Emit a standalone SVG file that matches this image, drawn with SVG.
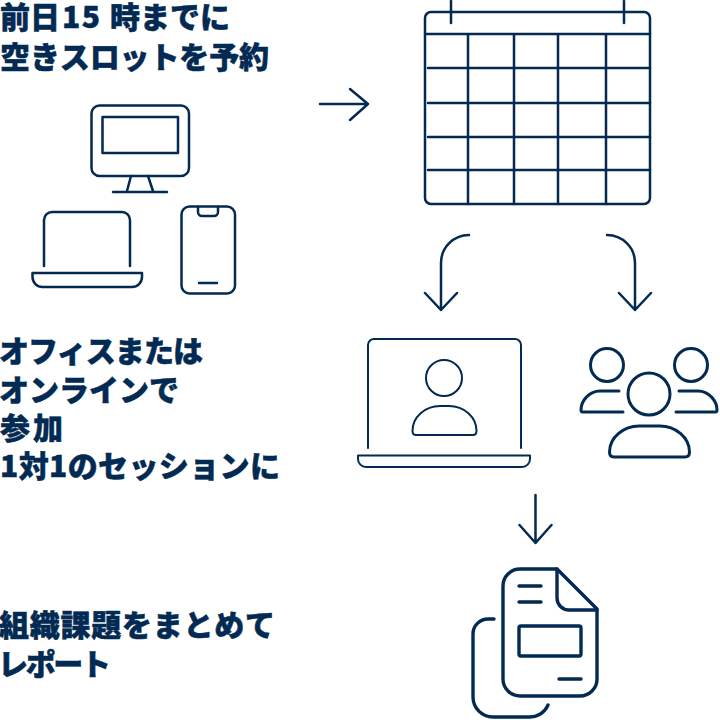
<svg xmlns="http://www.w3.org/2000/svg" width="720" height="720" viewBox="0 0 720 720">
<style>
.i{fill:none;stroke:#022a52;stroke-linecap:round;stroke-linejoin:round}
.a{stroke-width:2.5}.b{stroke-width:2}.c{stroke-width:3}.d{stroke-width:3.4}
text{font-family:"Noto Sans CJK JP","Noto Sans",sans-serif;font-weight:900;font-size:30px;fill:#022a52;stroke:#022a52;stroke-width:.5}
</style>
<rect width="720" height="720" fill="#fff"/>
<g id="label-booking"><text y="28"><tspan x="0">前日</tspan><tspan x="62" textLength="38">15</tspan><tspan x="110">時までに</tspan></text><text x="0" y="68" textLength="269">空きスロットを予約</text></g>
<g id="label-join"><text x="-1" y="362" textLength="204">オフィスまたは</text><text x="-1" y="401" textLength="180">オンラインで</text><text x="0" y="439" textLength="63">参加</text><text x="0" y="477" textLength="280">1対1のセッションに</text></g>
<g id="label-report"><text x="-1" y="636" textLength="276">組織課題をまとめて</text><text x="-2" y="675" textLength="113">レポート</text></g>
<g id="devices" class="i a">
<rect x="91.500" y="105.500" width="97.500" height="70.500" rx="8"/><rect x="102.500" y="117" width="75.500" height="36"/>
<path d="M131 176 127 191M148 176 153 191M113 192H167"/>
<path d="M44 266V220a8 8 0 0 1 8-8H122a8 8 0 0 1 8 8V266"/>
<path d="M32.500 273H142V277a10 10 0 0 1-10 10H42.500a10 10 0 0 1-10-10Z"/>
<rect x="181.500" y="206.500" width="53.500" height="87" rx="8"/>
<path d="M198 207V212a4 4 0 0 0 4 4H214a4 4 0 0 0 4-4V207M199 283H217"/>
</g>
<g id="calendar" class="i a">
<path d="M425 34V18a6 6 0 0 1 6-6H644a6 6 0 0 1 6 6V198a6 6 0 0 1-6 6H431a6 6 0 0 1-6-6Z"/>
<path d="M451 1V23M624 1V23M425 34H650M428 68H650M428 103H650M428 137H650M428 170H650M468 34V204M514 34V204M558 34V204M606 34V204"/>
</g>
<g id="connectors" class="i a">
<path d="M320 104H368M350 89 368 104 350 120"/>
<path d="M469 235A28 28 0 0 0 441 263V310M425 293 441 310 457 293"/>
<path d="M607 235A28 28 0 0 1 635 263V310M619 293 635 310 651 293"/>
<path d="M535.500 495V543M519.500 525 535.500 543 551.500 525"/>
</g>
<g id="online" class="i b">
<path d="M368 448V345a6 6 0 0 1 6-6H515a6 6 0 0 1 6 6V448"/>
<path d="M358 455.500H530V459a8 8 0 0 1-8 8H366a8 8 0 0 1-8-8Z"/>
<circle cx="444" cy="378" r="18"/>
<path d="M412.500 431C412.500 417 425 406 440 406H449C464 406 476.500 417 476.500 431Q476.500 435 473 435H416Q412.500 435 412.500 431Z"/>
</g>
<g id="people" class="i c">
<circle cx="607" cy="365" r="16.500"/><circle cx="691" cy="365" r="16.500"/><circle cx="649" cy="394" r="21"/>
<path d="M619 391H600C589 391 581 401 581 410Q581 412 583 412H623"/>
<path d="M679 391H698C709 391 717 401 717 410Q717 412 715 412H676"/>
<path d="M609.500 452C609.500 437 624 426 639 426H660C675 426 689.500 437 689.500 452Q689.500 457 685 457H614Q609.500 457 609.500 452Z"/>
</g>
<g id="report" class="i d">
<path d="M557 569H520a17 17 0 0 0-17 17V679a17 17 0 0 0 17 17H580a17 17 0 0 0 17-17V609Z"/>
<path d="M557 569V598a12 12 0 0 0 12 12H597"/>
<path d="M519 586H541M519 602H541M559 679H581"/>
<rect x="519" y="626" width="62" height="30" rx="2"/>
<path d="M494 619H488a15 15 0 0 0-15 15V697a20 20 0 0 0 20 20H528a20 20 0 0 0 20-12"/>
</g>
</svg>
